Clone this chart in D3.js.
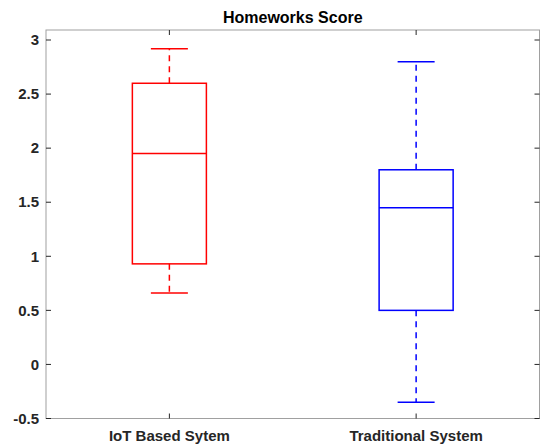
<!DOCTYPE html>
<html>
<head>
<meta charset="utf-8">
<script src="https://cdn.jsdelivr.net/npm/d3@7"></script>
<style>
  body { margin: 0; background: #fff; }
  svg { font-family: "Liberation Sans", Arial, sans-serif; }
</style>
</head>
<body>
<div id="chart"></div>
<script>
// box stats
const groups = ["IoT Based Sytem", "Traditional System"];
const lowerWhisker = [0.66, -0.35];
const q1 = [0.93, 0.5];
const median = [1.95, 1.45];
const q3 = [2.6, 1.8];
const upperWhisker = [2.92, 2.8];
const colors = ["#ff0000", "#0000ff"];
const yTicks = [-0.5, 0, 0.5, 1, 1.5, 2, 2.5, 3];

const width = 541, height = 446;
const margin = {top: 30, right: 1.5, bottom: 27.5, left: 46};

const svg = d3.select("#chart").append("svg")
    .attr("width", width)
    .attr("height", height);

const x = d3.scaleLinear().domain([0.5, 2.5]).range([margin.left, width - margin.right]);
const y = d3.scaleLinear().domain([-0.5, 3.0926]).range([height - margin.bottom, margin.top]);

const boxW = 0.3, capW = 0.15;

// axes box
svg.append("rect")
    .attr("x", margin.left).attr("y", margin.top)
    .attr("width", width - margin.right - margin.left)
    .attr("height", height - margin.bottom - margin.top)
    .attr("fill", "none")
    .attr("stroke", "#a0a0a0")
    .attr("stroke-width", 1);

// y ticks (left labels, ticks on both sides)
const tickLen = 5;
yTicks.forEach(t => {
    svg.append("line")
        .attr("x1", margin.left).attr("x2", margin.left + tickLen)
        .attr("y1", y(t)).attr("y2", y(t))
        .attr("stroke", "#262626");
    svg.append("line")
        .attr("x1", width - margin.right).attr("x2", width - margin.right - tickLen)
        .attr("y1", y(t)).attr("y2", y(t))
        .attr("stroke", "#262626");
    svg.append("text")
        .attr("x", margin.left - 7)
        .attr("y", y(t))
        .attr("dy", "0.35em")
        .attr("text-anchor", "end")
        .attr("font-size", 15)
        .attr("font-weight", "bold")
        .attr("fill", "#262626")
        .text(t);
});

// x ticks (top and bottom) and labels
groups.forEach((g, i) => {
    const cx = x(i + 1);
    svg.append("line")
        .attr("x1", cx).attr("x2", cx)
        .attr("y1", y(-0.5)).attr("y2", y(-0.5) - tickLen)
        .attr("stroke", "#262626");
    svg.append("line")
        .attr("x1", cx).attr("x2", cx)
        .attr("y1", margin.top).attr("y2", margin.top + tickLen)
        .attr("stroke", "#262626");
    svg.append("text")
        .attr("x", cx)
        .attr("y", 440.5)
        .attr("text-anchor", "middle")
        .attr("font-size", 15)
        .attr("font-weight", "bold")
        .attr("fill", "#262626")
        .text(g);
});

// title
svg.append("text")
    .attr("x", (margin.left + width - margin.right) / 2)
    .attr("y", 23)
    .attr("text-anchor", "middle")
    .attr("font-size", 16)
    .attr("font-weight", "bold")
    .attr("fill", "#000")
    .text("Homeworks Score");

// boxes
groups.forEach((g, i) => {
    const c = i + 1;
    const col = colors[i];
    const grp = svg.append("g").attr("stroke", col).attr("stroke-width", 1.5).attr("fill", "none");

    // whiskers
    grp.append("line")
        .attr("x1", x(c)).attr("x2", x(c))
        .attr("y1", y(q3[i])).attr("y2", y(upperWhisker[i]))
        .attr("stroke-dasharray", "6,5");
    grp.append("line")
        .attr("x1", x(c)).attr("x2", x(c))
        .attr("y1", y(q1[i])).attr("y2", y(lowerWhisker[i]))
        .attr("stroke-dasharray", "6,5");

    // caps
    [upperWhisker[i], lowerWhisker[i]].forEach(v => {
        grp.append("line")
            .attr("x1", x(c - capW / 2)).attr("x2", x(c + capW / 2))
            .attr("y1", y(v)).attr("y2", y(v));
    });

    // box
    grp.append("rect")
        .attr("x", x(c - boxW / 2))
        .attr("y", y(q3[i]))
        .attr("width", x(c + boxW / 2) - x(c - boxW / 2))
        .attr("height", y(q1[i]) - y(q3[i]));

    // median
    grp.append("line")
        .attr("x1", x(c - boxW / 2)).attr("x2", x(c + boxW / 2))
        .attr("y1", y(median[i])).attr("y2", y(median[i]));
});
</script>
</body>
</html>
